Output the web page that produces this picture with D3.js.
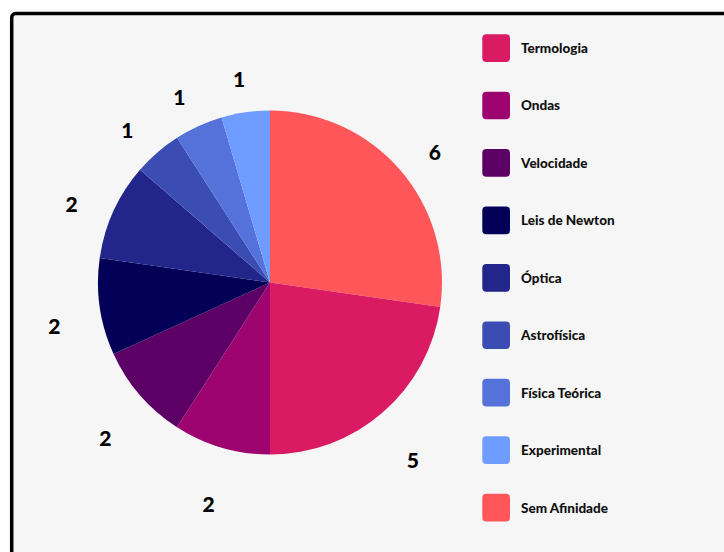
<!DOCTYPE html>
<html>
<head>
<meta charset="utf-8">
<script src="https://cdn.jsdelivr.net/npm/d3@7"></script>
<style>
  html, body { margin: 0; padding: 0; background: #ffffff; }
  svg { display: block; }
</style>
</head>
<body>
<svg id="chart" width="724" height="552"></svg>
<script>
const categories = ["Sem Afinidade", "Termologia", "Ondas", "Velocidade", "Leis de Newton", "Óptica", "Astrofísica", "Física Teórica", "Experimental"];
const values = [6, 5, 2, 2, 2, 2, 1, 1, 1];
const colors = ["#FF5659", "#DA1A62", "#9E0470", "#5D0066", "#050057", "#22258A", "#3B4DB3", "#5472D9", "#6E9CFF"];
const legendOrder = ["Termologia", "Ondas", "Velocidade", "Leis de Newton", "Óptica", "Astrofísica", "Física Teórica", "Experimental", "Sem Afinidade"];

const W = 724, H = 552;
const svg = d3.select("#chart");

// background panel with black border (extends off right/bottom)
svg.append("rect").attr("x", 0).attr("y", 0).attr("width", W).attr("height", H).attr("fill", "#ffffff");
svg.append("rect")
  .attr("x", 11.7).attr("y", 13.5)
  .attr("width", W + 20).attr("height", H + 20)
  .attr("rx", 4)
  .attr("fill", "#f6f6f6")
  .attr("stroke", "#000").attr("stroke-width", 3.5);

const color = d3.scaleOrdinal().domain(categories).range(colors);
const data = categories.map((c, i) => ({ name: c, value: values[i] }));

const pie = d3.pie().value(d => d.value).sort(null);
const arcs = pie(data);
const R = 172;
const cx = 270, cy = 282.5;
const arc = d3.arc().innerRadius(0).outerRadius(R);
const labelArc = d3.arc().innerRadius(218).outerRadius(218);

const g = svg.append("g").attr("transform", `translate(${cx},${cy})`);
g.selectAll("path.slice").data(arcs).enter().append("path")
  .attr("class", "slice")
  .attr("d", arc)
  .attr("fill", d => color(d.data.name));

g.selectAll("text.lbl").data(arcs).enter().append("text")
  .attr("class", "lbl")
  .attr("transform", d => { const [x, y] = labelArc.centroid(d); return `translate(${x},${y + 12})`; })
  .attr("text-anchor", "middle")
  .attr("dominant-baseline", "central")
  .style("font-family", "Lato, 'Open Sans', sans-serif")
  .style("font-weight", "900")
  .style("font-size", "21px")
  .attr("fill", "#000")
  .text(d => d.data.value);

// legend
const ly = d3.scalePoint().domain(legendOrder).range([48, 507.5]);
const leg = svg.append("g");
const items = leg.selectAll("g.item").data(legendOrder).enter().append("g")
  .attr("class", "item")
  .attr("transform", d => `translate(0,${ly(d)})`);
items.append("rect")
  .attr("x", 482.3).attr("y", -13.8)
  .attr("width", 27.7).attr("height", 27.7)
  .attr("rx", 4)
  .attr("fill", d => color(d));
items.append("text")
  .attr("x", 521).attr("y", 0)
  .attr("dominant-baseline", "central")
  .style("font-family", "Lato, 'Open Sans', sans-serif")
  .style("font-weight", "900")
  .style("font-size", "13.5px")
  .attr("fill", "#111")
  .text(d => d);
</script>
</body>
</html>
